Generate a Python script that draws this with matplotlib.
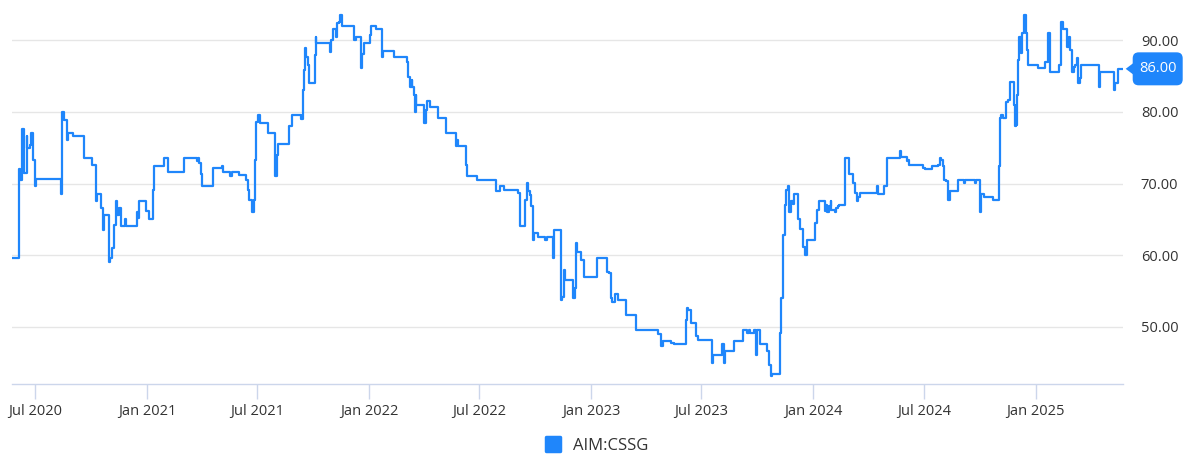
import matplotlib
matplotlib.use("Agg")
import matplotlib.pyplot as plt
import matplotlib.dates as mdates
import matplotlib.transforms as mtransforms
from matplotlib.lines import Line2D
from matplotlib.markers import MarkerStyle
from matplotlib.patches import Polygon, FancyBboxPatch
import pandas as pd

# ---------------- data ----------------
series_name = "AIM:CSSG"

dates = [
    "2020-05-25", "2020-06-05", "2020-06-06", "2020-06-09", "2020-06-12", "2020-06-17", "2020-06-18",
    "2020-06-22", "2020-06-25", "2020-06-28", "2020-07-01", "2020-07-02", "2020-08-12", "2020-08-14",
    "2020-08-15", "2020-08-18", "2020-08-23", "2020-08-24", "2020-09-01", "2020-09-19", "2020-10-03",
    "2020-10-09", "2020-10-10", "2020-10-17", "2020-10-20", "2020-10-22", "2020-10-30", "2020-11-01",
    "2020-11-04", "2020-11-08", "2020-11-11", "2020-11-12", "2020-11-16", "2020-11-19", "2020-11-26",
    "2020-11-28", "2020-12-15", "2020-12-17", "2020-12-19", "2020-12-31", "2021-01-04", "2021-01-10",
    "2021-01-12", "2021-01-29", "2021-02-05", "2021-03-02", "2021-03-24", "2021-03-25", "2021-03-27",
    "2021-03-30", "2021-04-02", "2021-04-20", "2021-05-04", "2021-05-06", "2021-05-17", "2021-05-20",
    "2021-06-01", "2021-06-12", "2021-06-16", "2021-06-18", "2021-06-23", "2021-06-26", "2021-06-27",
    "2021-06-29", "2021-07-03", "2021-07-05", "2021-07-19", "2021-07-31", "2021-08-02", "2021-08-05",
    "2021-08-22", "2021-08-28", "2021-09-11", "2021-09-15", "2021-09-16", "2021-09-18", "2021-09-20",
    "2021-09-22", "2021-09-25", "2021-10-04", "2021-10-05", "2021-10-06", "2021-10-29", "2021-10-30",
    "2021-11-02", "2021-11-08", "2021-11-10", "2021-11-12", "2021-11-15", "2021-11-17", "2021-12-08",
    "2021-12-10", "2021-12-18", "2021-12-21", "2021-12-24", "2022-01-03", "2022-01-05", "2022-01-13",
    "2022-01-22", "2022-01-24", "2022-02-11", "2022-03-04", "2022-03-06", "2022-03-09", "2022-03-12",
    "2022-03-13", "2022-03-16", "2022-03-17", "2022-03-19", "2022-03-20", "2022-04-02", "2022-04-04",
    "2022-04-06", "2022-04-11", "2022-04-25", "2022-05-07", "2022-05-24", "2022-05-26", "2022-05-28",
    "2022-06-09", "2022-06-11", "2022-06-27", "2022-07-28", "2022-08-04", "2022-08-11", "2022-09-03",
    "2022-09-06", "2022-09-15", "2022-09-17", "2022-09-20", "2022-09-23", "2022-09-25", "2022-09-28",
    "2022-09-29", "2022-10-06", "2022-10-18", "2022-10-20", "2022-10-31", "2022-11-01", "2022-11-12",
    "2022-11-13", "2022-11-15", "2022-11-17", "2022-11-19", "2022-12-02", "2022-12-05", "2022-12-07",
    "2022-12-09", "2022-12-16", "2022-12-20", "2023-01-10", "2023-01-28", "2023-01-31", "2023-02-02",
    "2023-02-05", "2023-02-09", "2023-02-15", "2023-02-28", "2023-03-16", "2023-04-21", "2023-04-26",
    "2023-04-29", "2023-05-13", "2023-05-18", "2023-06-06", "2023-06-08", "2023-06-10", "2023-06-14",
    "2023-06-23", "2023-06-26", "2023-07-18", "2023-07-20", "2023-08-05", "2023-08-07", "2023-08-09",
    "2023-08-24", "2023-09-08", "2023-09-15", "2023-09-18", "2023-09-20", "2023-09-26", "2023-09-29",
    "2023-09-30", "2023-10-05", "2023-10-18", "2023-10-21", "2023-10-23", "2023-10-26", "2023-11-08",
    "2023-11-09", "2023-11-13", "2023-11-15", "2023-11-16", "2023-11-17", "2023-11-21", "2023-11-23",
    "2023-11-25", "2023-11-29", "2023-12-01", "2023-12-08", "2023-12-10", "2023-12-16", "2023-12-19",
    "2023-12-22", "2024-01-04", "2024-01-07", "2024-01-10", "2024-01-21", "2024-01-22", "2024-01-24",
    "2024-01-27", "2024-01-30", "2024-01-31", "2024-02-06", "2024-02-08", "2024-02-11", "2024-02-13",
    "2024-02-22", "2024-02-29", "2024-03-07", "2024-03-10", "2024-03-13", "2024-03-15", "2024-03-18",
    "2024-04-15", "2024-04-17", "2024-04-26", "2024-05-02", "2024-05-23", "2024-05-24", "2024-06-03",
    "2024-06-05", "2024-06-07", "2024-06-30", "2024-07-03", "2024-07-14", "2024-07-25", "2024-07-28",
    "2024-07-30", "2024-08-02", "2024-08-03", "2024-08-06", "2024-08-09", "2024-08-13", "2024-08-27",
    "2024-09-05", "2024-09-07", "2024-09-23", "2024-09-25", "2024-10-02", "2024-10-03", "2024-10-08",
    "2024-10-22", "2024-11-02", "2024-11-04", "2024-11-05", "2024-11-08", "2024-11-13", "2024-11-16",
    "2024-11-20", "2024-11-27", "2024-11-28", "2024-11-30", "2024-12-02", "2024-12-03", "2024-12-05",
    "2024-12-07", "2024-12-09", "2024-12-12", "2024-12-13", "2024-12-16", "2024-12-18", "2024-12-20",
    "2025-01-04", "2025-01-16", "2025-01-21", "2025-01-24", "2025-02-08", "2025-02-12", "2025-02-15",
    "2025-02-22", "2025-02-24", "2025-02-27", "2025-03-02", "2025-03-05", "2025-03-07", "2025-03-10",
    "2025-03-12", "2025-03-14", "2025-03-16", "2025-04-15", "2025-04-16", "2025-05-10", "2025-05-11",
    "2025-05-16", "2025-05-23",
]

prices = [
    59.6, 72.0, 70.5, 77.6, 71.5, 76.6, 75.0,
    75.4, 77.1, 73.3, 69.6, 70.6, 68.6, 74.7,
    80.0, 78.9, 76.1, 77.0, 76.6, 73.5, 72.6,
    67.5, 68.6, 66.6, 63.5, 65.6, 59.1, 59.6,
    61.0, 64.2, 67.5, 65.6, 66.6, 64.1, 65.0,
    64.1, 66.0, 65.2, 67.5, 66.2, 65.0, 69.1,
    72.5, 73.5, 71.6, 73.5, 73.1, 73.5, 72.8,
    71.4, 69.6, 72.1, 72.5, 71.6, 71.0, 71.6,
    71.2, 70.5, 69.1, 67.7, 66.1, 67.7, 73.3,
    78.6, 79.6, 78.5, 77.0, 71.0, 74.0, 75.5,
    78.0, 79.5, 79.0, 83.1, 85.9, 88.9, 87.7,
    86.6, 84.0, 87.9, 90.5, 89.6, 88.4, 90.0,
    91.5, 90.5, 92.4, 92.6, 93.5, 92.0, 90.0,
    90.5, 86.1, 88.0, 89.6, 90.7, 92.0, 91.5,
    87.6, 88.5, 87.6, 87.0, 84.9, 83.4, 84.5,
    83.4, 82.4, 80.0, 82.4, 81.0, 78.5, 80.3,
    81.5, 80.7, 79.1, 77.0, 75.2, 76.1, 75.2,
    72.6, 71.1, 70.5, 69.0, 69.6, 69.1, 68.7,
    64.1, 67.7, 70.1, 68.9, 68.4, 66.8, 62.1,
    63.1, 62.6, 62.1, 62.6, 59.6, 63.5, 58.0,
    53.8, 54.2, 58.0, 56.6, 54.0, 55.4, 61.7,
    60.5, 59.4, 57.0, 59.6, 57.7, 57.5, 54.0,
    53.5, 54.6, 53.7, 51.6, 49.6, 49.0, 47.4,
    48.1, 47.8, 47.6, 51.0, 52.6, 52.4, 50.6,
    48.7, 48.2, 45.0, 46.1, 47.6, 45.0, 46.6,
    48.1, 49.6, 49.1, 49.6, 49.2, 49.6, 46.1,
    49.6, 47.6, 46.6, 44.7, 43.2, 43.5, 49.1,
    54.0, 62.8, 63.8, 67.0, 69.1, 69.6, 66.1,
    67.5, 67.1, 68.6, 65.0, 63.6, 61.2, 60.1,
    62.1, 64.5, 66.3, 67.5, 66.2, 67.0, 66.1,
    66.8, 67.5, 66.3, 66.1, 66.6, 66.8, 67.0,
    73.5, 71.4, 70.1, 68.7, 67.5, 68.1, 68.7,
    69.6, 68.6, 69.6, 73.5, 74.5, 73.7, 73.1,
    73.3, 72.6, 72.1, 72.0, 72.4, 72.6, 73.5,
    73.3, 72.4, 70.5, 70.3, 67.7, 69.0, 70.5,
    70.1, 70.5, 70.1, 70.5, 66.1, 68.6, 68.1,
    67.7, 72.4, 79.1, 79.6, 79.1, 81.4, 81.7,
    84.1, 81.0, 78.0, 78.2, 82.4, 87.3, 90.5,
    88.2, 91.0, 92.1, 93.5, 91.0, 88.6, 86.6,
    86.1, 87.0, 91.0, 85.6, 86.6, 92.5, 91.5,
    89.1, 90.5, 88.6, 85.6, 86.3, 86.6, 87.5,
    84.0, 84.7, 86.6, 83.5, 85.6, 83.1, 84.0,
    86.0, 86.0,
]

y_ticks = [50, 60, 70, 80, 90]
x_range = ["2020-05-24", "2025-05-24"]
y_range = [42.0, 95.6]

# ---------------- style ----------------
LINE_COLOR = "#1f86fb"
GRID_COLOR = "#e6e6e6"
AXIS_COLOR = "#ccd6eb"
TEXT_COLOR = "#333333"

plt.rcParams["font.family"] = ["Open Sans", "DejaVu Sans"]

W, H = 1188, 466
fig = plt.figure(figsize=(W / 100, H / 100), dpi=100)
ax_left, ax_right, ax_bottom, ax_top = 12, 1122.7, 384.3, 0
ax = fig.add_axes([ax_left / W, 1 - ax_bottom / H, (ax_right - ax_left) / W, (ax_bottom - ax_top) / H])

x = pd.to_datetime(dates)
ax.plot(x, prices, color=LINE_COLOR, lw=1.6, drawstyle="steps-post",
        solid_joinstyle="round", zorder=3)

ax.set_xlim(pd.Timestamp(x_range[0]), pd.Timestamp(x_range[1]))
ax.set_ylim(*y_range)

# y axis on the right, grid lines
ax.yaxis.tick_right()
ax.set_yticks(y_ticks)
ax.yaxis.set_major_formatter(matplotlib.ticker.FuncFormatter(lambda v, p: f"{v:.2f}"))
ax.tick_params(axis="y", length=0, pad=13, labelsize=10.5, labelcolor=TEXT_COLOR)
ax.grid(axis="y", color=GRID_COLOR, lw=1)
ax.set_axisbelow(True)

# x axis
ax.xaxis.set_major_locator(mdates.MonthLocator(bymonth=[1, 7]))
ax.xaxis.set_major_formatter(mdates.DateFormatter("%b %Y"))
ax.tick_params(axis="x", length=11, width=1, color=AXIS_COLOR, pad=3,
               labelsize=10.5, labelcolor=TEXT_COLOR)

for side in ["top", "left", "right"]:
    ax.spines[side].set_visible(False)
ax.spines["bottom"].set_color(AXIS_COLOR)
ax.spines["bottom"].set_linewidth(1)

# last value label (pointer + rounded box, in display pixels)
last_val = prices[-1]
px, py = ax.transData.transform((mdates.date2num(pd.Timestamp(x_range[1])), last_val))
tip = px + 3
box_w, box_h, arrow_w = 50, 33, 7
tri = Polygon([(tip, py), (tip + arrow_w + 1, py + 6), (tip + arrow_w + 1, py - 6)], closed=True,
              transform=None, facecolor=LINE_COLOR, edgecolor="none", zorder=5)
box = FancyBboxPatch((tip + arrow_w, py - box_h / 2), box_w, box_h,
                     boxstyle="round,pad=0,rounding_size=6", transform=None,
                     facecolor=LINE_COLOR, edgecolor="none", zorder=5)
fig.patches.extend([tri, box])
fig.text(tip + arrow_w + box_w / 2, py, f"{last_val:.2f}", transform=None,
         ha="center", va="center", color="white", fontsize=10.5, zorder=6)

# legend
handle = Line2D([], [], linestyle="none",
                marker=MarkerStyle("s", joinstyle="round"), markersize=9.5,
                markerfacecolor=LINE_COLOR, markeredgecolor=LINE_COLOR, markeredgewidth=2.5)
fig.legend([handle], [series_name], loc="center", bbox_to_anchor=(0.499, 1 - 446 / H),
           frameon=False, fontsize=12, handletextpad=0.2, labelcolor=TEXT_COLOR)

fig.savefig("out.png", dpi=100)
